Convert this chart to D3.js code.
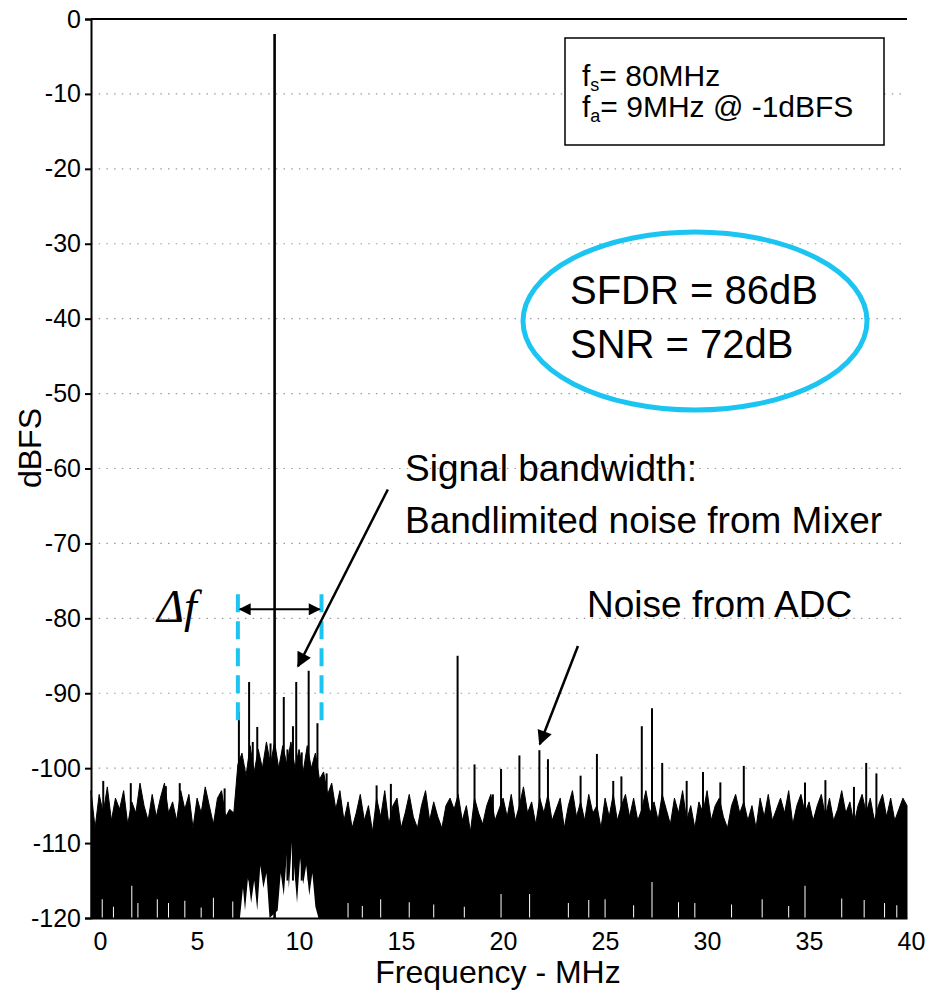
<!DOCTYPE html>
<html lang="en">
<head>
<meta charset="UTF-8">
<title>ADC FFT spectrum</title>
<script src="https://cdn.jsdelivr.net/npm/d3@7"></script>
<style>
    body { margin: 0; background: #fff; }
    svg { font-family: "Liberation Sans", Arial, sans-serif; }
    .axis path,
    .axis line {
        fill: none;
        stroke: black;
        stroke-width: 2;
    }
    .axis text {
        font-size: 25px;
        fill: black;
    }
    .grid line {
        stroke: #9a9a9a;
        stroke-width: 1.2;
        stroke-dasharray: 1.5, 6.2;
    }
</style>
</head>
<body>
<script>
    let width = 933;
    let height = 993;

    // axis ticks
    let xTicks = [0, 5, 10, 15, 20, 25, 30, 35, 40];
    let yTicks = [0, -10, -20, -30, -40, -50, -60, -70, -80, -90, -100, -110, -120];

    // noise floor top edge, one value every 0.2 MHz from 0 to 40 MHz (dBFS)
    let noiseStep = 0.2;
    let noiseTop = [
        // 0 - 7 MHz
        -103, -108, -103.5, -106, -102.5, -107, -104, -105.5, -103, -107.5,
        -104.5, -106, -102, -105, -107, -103.5, -106.5, -104, -102, -106,
        -104.5, -107, -103, -105.5, -103.5, -108, -104, -106, -102.5, -105,
        -107.5, -104, -103, -106.5, -105.5, -106,
        // 7.2 - 11.2 MHz, mixer band
        -99.5, -98, -101, -97, -100.5, -97.5, -100, -96.5, -99.5, -96.5,
        -100, -97, -99.5, -96.5, -100, -97.5, -100.5, -97, -100, -98, -101.5,
        // 11.4 - 11.8 MHz
        -100.5, -103.5, -102,
        // 12 - 40 MHz
        -105.5, -103, -107, -104.5, -108, -106, -103.5, -107, -105, -108.5,
        -104, -106.5, -103, -107.5, -105, -104, -108, -106, -103.5, -106.5,
        -108, -105, -103, -107, -104.5, -106.5, -108, -105, -104, -105.5,
        -103.5, -107, -105, -108.5, -104, -106, -107.5, -105, -103.5, -107,
        -105.5, -104, -106.5, -103.5, -107, -105, -102.5, -106, -104.5, -107.5,
        -104, -106, -103.5, -107, -105.5, -104, -108, -105, -103, -106.5,
        -104.5, -107, -103.5, -106, -105, -108, -104, -106.5, -103.5, -107,
        -105, -103.5, -106.5, -104, -107, -105.5, -103, -106, -104.5, -107,
        -103.5, -105.5, -107.5, -104, -106, -103, -107, -105, -108, -104.5,
        -106, -103, -107, -105, -104, -106.5, -108, -105, -103.5, -106,
        -104.5, -107, -105, -108, -104, -106.5, -103.5, -107, -105.5, -104,
        -106, -103, -107.5, -105, -103.5, -106, -104.5, -107, -105, -103.5,
        -106.5, -104, -107, -105.5, -103, -106, -104.5, -107.5, -105, -103.5,
        -106, -104, -107, -105, -103.5, -106.5, -104, -107, -105.5, -104,
        -105
    ];

    // white holes under the raised mixer band [MHz, dBFS]
    let bandHoles = [
        [7.3, -120], [7.45, -116], [7.55, -119], [7.7, -114.5], [7.85, -118],
        [8.0, -115], [8.15, -119], [8.3, -113], [8.45, -116], [8.6, -114],
        [8.75, -120], [9.15, -119], [9.3, -114], [9.45, -117], [9.6, -111.5],
        [9.7, -116], [9.85, -110], [9.95, -113], [10.1, -118], [10.25, -112],
        [10.4, -115.5], [10.55, -113], [10.7, -117], [10.85, -114], [11.0, -118.5],
        [11.15, -120]
    ];

    // thin white slivers at the bottom of the floor [MHz, dBFS]
    let floorGaps = [
        [0.55, -117.5], [1.1, -118.5], [2.0, -115.7], [2.3, -118], [3.25, -117.5],
        [3.8, -118], [4.6, -117.7], [5.4, -118.6], [6.0, -117.3], [6.95, -117.8],
        [12.6, -118], [13.3, -118.4], [14.2, -117.5], [15.6, -117.9], [16.8, -118.2],
        [18.3, -118.5], [20.1, -116.8], [21.5, -116.8], [23.4, -118], [24.4, -117.6],
        [25.2, -117.5], [26.6, -118.3], [27.5, -115.2], [28.8, -117.9], [29.6, -118],
        [31.4, -118.2], [32.9, -117.5], [34.2, -118.4], [35.0, -115.7], [36.8, -117.4],
        [37.9, -117.6], [38.9, -118], [39.5, -118.3]
    ];

    // fundamental
    let tone = [9.0, -2];

    // spurs [MHz, dBFS]
    let spurs = [
        [7.25, -92.5], [7.75, -88.5], [8.15, -94.5], [9.45, -90.5], [9.9, -94.4],
        [10.06, -88.5], [10.67, -87], [11.1, -94], [11.36, -101], [11.55, -100.7],
        [7.93, -96.5], [8.8, -96.7], [9.63, -97.5], [10.33, -97.9], [10.97, -98.5],
        [17.97, -85], [18.8, -99.5], [20.1, -100.1], [21.0, -98.3], [21.98, -97.6],
        [22.4, -98.8], [24.0, -101], [24.8, -98.1], [25.6, -101.7], [26.0, -101.1],
        [27.0, -94.4], [27.5, -92], [28.0, -99.3], [29.2, -101.7], [30.0, -100.5],
        [30.85, -101.9], [32.0, -99.7], [35.0, -101.9], [36.0, -101.6], [37.4, -102.5],
        [38.0, -99.3], [38.5, -100.7], [0.6, -101.7], [1.95, -102], [3.67, -102.4],
        [4.35, -102], [6.55, -102.7], [14.0, -102.3], [14.7, -102.1], [19.7, -103.5]
    ];

    // annotation anchors [MHz, dBFS]
    let bandEdges = [7.2, 11.3];
    let bandDash = [-76.8, -94];
    let bandArrowLevel = -78.8;
    let mixerArrow = [[14.55, -62.8], [10.15, -86.4]];
    let adcArrow = [[23.87, -83.7], [22.0, -96.8]];

    let cyan = '#1cc5f1';

    let svg = d3.select('body')
        .append('svg')
        .attr('width', width)
        .attr('height', height);

    let x = d3.scaleLinear().domain([0, 40]).range([91, 907]);
    let y = d3.scaleLinear().domain([-120, 0]).range([918, 19]);

    let defs = svg.append('defs');
    defs.append('marker')
        .attr('id', 'head')
        .attr('viewBox', '0 0 10 10')
        .attr('refX', 9)
        .attr('refY', 5)
        .attr('markerWidth', 8)
        .attr('markerHeight', 6)
        .attr('markerUnits', 'strokeWidth')
        .attr('orient', 'auto-start-reverse')
        .append('path')
        .attr('d', 'M0,0 L10,5 L0,10 z')
        .attr('fill', 'black');

    // grid
    svg.append('g')
        .attr('class', 'grid')
        .selectAll('line')
        .data(yTicks.filter(function (d) { return d < 0 && d > -120; }))
        .enter()
        .append('line')
        .attr('x1', x(0))
        .attr('x2', x(40))
        .attr('y1', function (d) { return y(d); })
        .attr('y2', function (d) { return y(d); });

    // noise floor
    let noiseArea = d3.area()
        .x(function (d, i) { return x(i * noiseStep); })
        .y0(y(-120))
        .y1(function (d) { return y(d); });
    svg.append('path')
        .datum(noiseTop)
        .attr('d', noiseArea)
        .attr('fill', 'black')
        .attr('stroke', 'black')
        .attr('stroke-width', 1);

    let holeArea = d3.area()
        .x(function (d) { return x(d[0]); })
        .y0(y(-120))
        .y1(function (d) { return y(d[1]); });
    svg.append('path')
        .datum(bandHoles)
        .attr('d', holeArea)
        .attr('fill', 'white');

    svg.append('g')
        .selectAll('line')
        .data(floorGaps)
        .enter()
        .append('line')
        .attr('x1', function (d) { return x(d[0]); })
        .attr('x2', function (d) { return x(d[0]); })
        .attr('y1', y(-120))
        .attr('y2', function (d) { return y(d[1]); })
        .attr('stroke', 'white')
        .attr('stroke-width', 1);

    // spurs and tone
    svg.append('g')
        .selectAll('line')
        .data(spurs)
        .enter()
        .append('line')
        .attr('x1', function (d) { return x(d[0]); })
        .attr('x2', function (d) { return x(d[0]); })
        .attr('y1', y(-115))
        .attr('y2', function (d) { return y(d[1]); })
        .attr('stroke', 'black')
        .attr('stroke-width', 2);

    svg.append('line')
        .attr('x1', x(tone[0]))
        .attr('x2', x(tone[0]))
        .attr('y1', y(-120))
        .attr('y2', y(tone[1]))
        .attr('stroke', 'black')
        .attr('stroke-width', 2.6);

    // axes
    let yAxis = d3.axisLeft(y)
        .tickValues(yTicks)
        .tickSize(6)
        .tickPadding(4)
        .tickFormat(function (d) { return String(d); });
    svg.append('g')
        .attr('class', 'axis')
        .attr('transform', 'translate(' + x(0) + ',0)')
        .call(yAxis);

    let xAxis = d3.axisBottom(x)
        .tickValues(xTicks)
        .tickSize(0)
        .tickPadding(14)
        .tickFormat(function (d) { return String(d); });
    let gx = svg.append('g')
        .attr('class', 'axis')
        .attr('transform', 'translate(0,' + y(-120) + ')')
        .call(xAxis);
    gx.selectAll('text').attr('dx', 4);
    gx.selectAll('text').filter(function (d) { return d === 0; })
        .attr('text-anchor', 'start')
        .attr('dx', 2);

    // top frame line
    svg.append('line')
        .attr('x1', x(0))
        .attr('x2', x(40))
        .attr('y1', y(0))
        .attr('y2', y(0))
        .attr('stroke', 'black')
        .attr('stroke-width', 2);

    // axis titles
    svg.append('text')
        .attr('transform', 'translate(41,448) rotate(-90)')
        .attr('text-anchor', 'middle')
        .attr('font-size', 32)
        .text('dBFS');
    svg.append('text')
        .attr('x', 498)
        .attr('y', 983)
        .attr('text-anchor', 'middle')
        .attr('font-size', 32)
        .text('Frequency - MHz');

    // info box
    svg.append('rect')
        .attr('x', 565)
        .attr('y', 38)
        .attr('width', 319)
        .attr('height', 107)
        .attr('fill', 'white')
        .attr('stroke', 'black')
        .attr('stroke-width', 1.5);
    let l1 = svg.append('text').attr('x', 582).attr('y', 86).attr('font-size', 30);
    l1.append('tspan').text('f');
    l1.append('tspan').attr('font-size', 18).attr('dy', 5).text('s');
    l1.append('tspan').attr('dy', -5).text('= 80MHz');
    let l2 = svg.append('text').attr('x', 582).attr('y', 117).attr('font-size', 30);
    l2.append('tspan').text('f');
    l2.append('tspan').attr('font-size', 18).attr('dy', 5).text('a');
    l2.append('tspan').attr('dy', -5).text('= 9MHz @ -1dBFS');

    // SFDR / SNR ellipse
    svg.append('ellipse')
        .attr('cx', 695)
        .attr('cy', 321)
        .attr('rx', 172)
        .attr('ry', 89)
        .attr('fill', 'none')
        .attr('stroke', cyan)
        .attr('stroke-width', 5);
    svg.append('text').attr('x', 570).attr('y', 304).attr('font-size', 40).text('SFDR = 86dB');
    svg.append('text').attr('x', 570).attr('y', 358).attr('font-size', 40).text('SNR = 72dB');

    // band markers
    svg.append('g')
        .selectAll('line')
        .data(bandEdges)
        .enter()
        .append('line')
        .attr('x1', function (d) { return x(d); })
        .attr('x2', function (d) { return x(d); })
        .attr('y1', y(bandDash[0]))
        .attr('y2', y(bandDash[1]))
        .attr('stroke', cyan)
        .attr('stroke-width', 4)
        .attr('stroke-dasharray', '18,9');

    svg.append('line')
        .attr('x1', x(bandEdges[0]) + 2)
        .attr('x2', x(bandEdges[1]) - 2)
        .attr('y1', y(bandArrowLevel))
        .attr('y2', y(bandArrowLevel))
        .attr('stroke', 'black')
        .attr('stroke-width', 2)
        .attr('marker-start', 'url(#head)')
        .attr('marker-end', 'url(#head)');

    svg.append('text')
        .attr('x', 157)
        .attr('y', 622)
        .attr('font-family', '"Liberation Serif", "Times New Roman", serif')
        .attr('font-style', 'italic')
        .attr('font-size', 46)
        .text('Δf');

    // callout arrows
    [mixerArrow, adcArrow].forEach(function (a) {
        svg.append('line')
            .attr('x1', x(a[0][0]))
            .attr('y1', y(a[0][1]))
            .attr('x2', x(a[1][0]))
            .attr('y2', y(a[1][1]))
            .attr('stroke', 'black')
            .attr('stroke-width', 2.5)
            .attr('marker-end', 'url(#head)');
    });

    svg.append('text').attr('x', 405).attr('y', 481).attr('font-size', 37).text('Signal bandwidth:');
    svg.append('text').attr('x', 405).attr('y', 533).attr('font-size', 37).text('Bandlimited noise from Mixer');
    svg.append('text').attr('x', 587).attr('y', 617).attr('font-size', 37).text('Noise from ADC');
</script>
</body>
</html>
